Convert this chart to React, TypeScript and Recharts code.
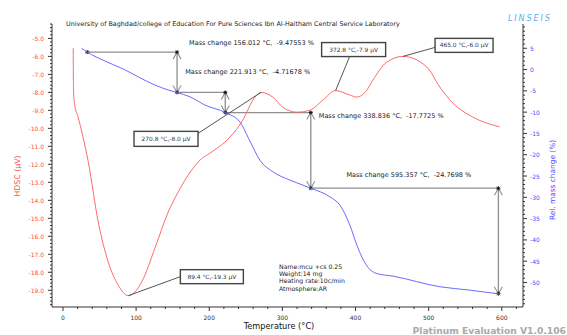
import { LineChart, Line, XAxis, YAxis, ReferenceLine, ReferenceDot } from "recharts";

// Literal colours.
const RED = "#ff6a6a";
const RED_TEXT = "#ff4a4a";
const BLUE = "#6a6aff";
const BLUE_TEXT = "#4a4aff";
const GUIDE = "#8f8f8f";
const AXIS = "#333";
const FONT = "'DejaVu Sans', Verdana, sans-serif";

// HDSC trace (µV) against temperature (°C)
const dscTemps = [14.0, 14.4, 16.0, 20.5, 34.6, 48.2, 61.9, 75.6, 89.4, 107.6, 125.7, 143.9, 157.6, 171.2, 189.6, 200.9, 228.2, 246.0, 259.7, 270.8, 287.0, 300.7, 319.8, 337.6, 355.3, 372.8, 392.2, 401.8, 415.5, 423.7, 442.8, 465.0, 497.5, 515.2, 533.0, 560.3, 597.0];
const dscValues = [-5.55, -7.9, -8.7, -9.35, -11.86, -15.2, -17.43, -18.72, -19.3, -18.54, -16.66, -14.65, -13.53, -12.6, -11.68, -11.38, -10.49, -9.54, -8.43, -8.0, -8.27, -8.83, -9.1, -8.99, -8.43, -7.9, -8.15, -8.26, -7.87, -7.32, -6.32, -6.0, -6.59, -7.7, -8.59, -9.37, -9.92];

// TG trace (rel. mass change %) against temperature (°C)
const tgTemps = [25.6, 33.2, 57.4, 80.2, 125.7, 143.9, 156.0, 173.6, 194.1, 221.9, 241.9, 255.6, 269.2, 287.0, 310.2, 328.0, 338.8, 364.9, 378.6, 392.2, 401.8, 408.6, 416.8, 429.1, 451.0, 515.2, 556.2, 597.0];
const tgValues = [5.0, 4.1, 2.0, 0.3, -3.63, -4.8, -5.38, -6.4, -8.33, -10.09, -12.3, -16.8, -21.25, -24.0, -25.95, -27.13, -27.87, -29.88, -31.83, -36.5, -41.2, -44.0, -46.4, -47.9, -48.5, -51.0, -51.8, -52.7];

// mass change steps
const stepStart = { t: 33.2, m: 4.1 };
const stepTemps = [156.012, 221.913, 338.836, 595.357];
const stepChanges = [-9.47553, -4.71678, -17.7725, -24.7698];
const stepLabels = ["-9.47553", "-4.71678", "-17.7725", "-24.7698"];

// DSC peak picks
const peakTemps = [89.4, 270.8, 372.8, 465.0];
const peakValues = [-19.3, -8.0, -7.9, -6.0];

const xMajor = [0, 100, 200, 300, 400, 500, 600];
const dscMajor = [-5, -6, -7, -8, -9, -10, -11, -12, -13, -14, -15, -16, -17, -18, -19];
const tgMajor = [5, 0, -5, -10, -15, -20, -25, -30, -35, -40, -45, -50];

const infoLines = ["Name:mcu +cs 0.25", "Weight:14 mg", "Heating rate:10c/min", "Atmosphere:AR"];

// layout of the annotation boxes, relative to the peak point (px)
const tagLayout = [
  { bx: 52, by: -26, bw: 63, bh: 14, lx: 52, ly: -19 },
  { bx: -127, by: 39, bw: 64, bh: 15, lx: -63, ly: 41 },
  { bx: -14, by: -48, bw: 64, bh: 14, lx: 14, ly: -34 },
  { bx: 32, by: -18, bw: 58, bh: 14, lx: 32, ly: -9 },
];
const textOffsets = [
  { dx: 12, dy: -9 },
  { dx: -40, dy: -20 },
  { dx: 8, dy: 3 },
  { dx: -152, dy: -13 },
];

const dscData = dscTemps.map((t, i) => ({ t, v: dscValues[i] }));
const tgData = tgTemps.map((t, i) => ({ t, v: tgValues[i] }));

const levels = stepChanges.reduce<number[]>((acc, c) => [...acc, acc[acc.length - 1] + c], [stepStart.m]);
const stepFrom = [stepStart.t, ...stepTemps];

const range = (from: number, to: number, step: number) => {
  const out: number[] = [];
  for (let k = Math.round(from / step); k >= Math.round(to / step); k--) out.push(+(k * step).toFixed(2));
  return out;
};
const xTicks = range(620, 0, 20).reverse();
const dscTicks = range(-4.2, -19.8, 0.2);
const tgTicks = range(10, -55, 1);

function XTick({ x, y, payload }: any) {
  const major = xMajor.includes(payload.value);
  return (
    <g>
      <line x1={x} x2={x} y1={y} y2={y + (major ? 4 : 2)} stroke={AXIS} />
      {major && (
        <text x={x} y={y + 10} textAnchor="middle" dominantBaseline="central" fontSize={6} fontFamily={FONT} fill="#333">
          {payload.value}
        </text>
      )}
    </g>
  );
}

function DscTick({ x, y, payload }: any) {
  const major = dscMajor.includes(payload.value);
  return (
    <g>
      <line x1={x} x2={x - (major ? 4 : 2)} y1={y} y2={y} stroke={AXIS} />
      {major && (
        <text x={x - 8} y={y} textAnchor="end" dominantBaseline="central" fontSize={6} fontFamily={FONT} fill={RED_TEXT}>
          {payload.value.toFixed(1)}
        </text>
      )}
    </g>
  );
}

function TgTick({ x, y, payload }: any) {
  const major = tgMajor.includes(payload.value);
  return (
    <g>
      <line x1={x} x2={x + (major ? 4 : 2)} y1={y} y2={y} stroke={AXIS} />
      {major && (
        <text x={x + 7} y={y} textAnchor="start" dominantBaseline="central" fontSize={6} fontFamily={FONT} fill={BLUE_TEXT}>
          {payload.value}
        </text>
      )}
    </g>
  );
}

function Marker({ x, y }: { x: number; y: number }) {
  return (
    <g stroke="#111" strokeWidth={0.9}>
      <line x1={x - 2} x2={x + 2} y1={y} y2={y} />
      <line x1={x} x2={x} y1={y - 2} y2={y + 2} />
      <line x1={x - 1.5} x2={x + 1.5} y1={y - 1.5} y2={y + 1.5} />
      <line x1={x - 1.5} x2={x + 1.5} y1={y + 1.5} y2={y - 1.5} />
    </g>
  );
}

function Guide({ x1, y1, x2, y2, arrows, startMark }: any) {
  const top = Math.min(y1, y2);
  const bot = Math.max(y1, y2);
  return (
    <g>
      <line x1={x1} y1={y1} x2={x2} y2={y2} stroke={GUIDE} strokeWidth={1.3} />
      {arrows && (
        <g stroke={GUIDE} strokeWidth={1.1} fill="none">
          <polyline points={`${x1 - 4},${top + 7} ${x1},${top} ${x1 + 4},${top + 7}`} />
          <polyline points={`${x1 - 4},${bot - 7} ${x1},${bot} ${x1 + 4},${bot - 7}`} />
        </g>
      )}
      {arrows && <Marker x={x1} y={top} />}
      {arrows && <Marker x={x1} y={bot} />}
      {startMark && <Marker x={x1} y={y1} />}
    </g>
  );
}

function PeakTag({ cx, cy, text, lay }: any) {
  return (
    <g>
      <line x1={cx} y1={cy} x2={cx + lay.lx} y2={cy + lay.ly} stroke="#555" strokeWidth={1} />
      <rect x={cx + lay.bx} y={cy + lay.by} width={lay.bw} height={lay.bh} fill="#fff" stroke="#444" strokeWidth={1.4} />
      <text
        x={cx + lay.bx + lay.bw / 2}
        y={cy + lay.by + lay.bh / 2}
        textAnchor="middle"
        dominantBaseline="central"
        fontSize={5.9}
        fontFamily={FONT}
        fill="#333"
      >
        {text}
      </text>
    </g>
  );
}

export default function App() {
  return (
    <div style={{ position: "relative", width: 567, height: 335, background: "#fff" }}>
      <style>{"body{margin:0}"}</style>
      <LineChart width={567} height={335} margin={{ top: 24, right: 0, bottom: 0, left: 0 }}>
        <XAxis
          dataKey="t"
          type="number"
          domain={[-15, 629]}
          ticks={xTicks}
          interval={0}
          allowDataOverflow
          height={28}
          tick={<XTick />}
          tickLine={false}
          tickSize={0}
          tickMargin={0}
          axisLine={{ stroke: AXIS }}
        />
        <YAxis
          yAxisId="dsc"
          type="number"
          domain={[-19.93, -4.2]}
          ticks={dscTicks}
          interval={0}
          allowDataOverflow
          width={52}
          tick={<DscTick />}
          tickLine={false}
          tickSize={0}
          tickMargin={0}
          axisLine={{ stroke: AXIS }}
        />
        <YAxis
          yAxisId="tg"
          orientation="right"
          type="number"
          domain={[-55.76, 10.7]}
          ticks={tgTicks}
          interval={0}
          allowDataOverflow
          width={44}
          tick={<TgTick />}
          tickLine={false}
          tickSize={0}
          tickMargin={0}
          axisLine={{ stroke: AXIS }}
        />

        {stepTemps.map((t, i) => (
          <ReferenceLine
            key={`h${i}`}
            yAxisId="tg"
            segment={[
              { x: stepFrom[i], y: levels[i] },
              { x: t, y: levels[i] },
            ]}
            shape={(p: any) => <Guide {...p} startMark={i === 0} />}
          />
        ))}
        {stepTemps.map((t, i) => (
          <ReferenceLine
            key={`v${i}`}
            yAxisId="tg"
            segment={[
              { x: t, y: levels[i] },
              { x: t, y: levels[i + 1] },
            ]}
            shape={(p: any) => <Guide {...p} arrows />}
          />
        ))}

        <Line
          data={tgData}
          yAxisId="tg"
          dataKey="v"
          type="monotone"
          stroke={BLUE}
          strokeWidth={1}
          dot={false}
          isAnimationActive={false}
        />
        <Line
          data={dscData}
          yAxisId="dsc"
          dataKey="v"
          type="monotone"
          stroke={RED}
          strokeWidth={1}
          dot={false}
          isAnimationActive={false}
        />

        {stepTemps.map((t, i) => (
          <ReferenceDot
            key={`l${i}`}
            yAxisId="tg"
            x={t}
            y={levels[i]}
            r={0}
            shape={(p: any) => (
              <text
                x={p.cx + textOffsets[i].dx}
                y={p.cy + textOffsets[i].dy}
                dominantBaseline="central"
                fontSize={6.5}
                fontFamily={FONT}
                fill="#222"
                style={{ whiteSpace: "pre" }}
              >
                {`Mass change ${t.toFixed(3)} °C,  ${stepLabels[i]} %`}
              </text>
            )}
          />
        ))}
        {peakTemps.map((t, i) => (
          <ReferenceDot
            key={`p${i}`}
            yAxisId="dsc"
            x={t}
            y={peakValues[i]}
            r={0}
            shape={(p: any) => (
              <PeakTag cx={p.cx} cy={p.cy} lay={tagLayout[i]} text={`${t.toFixed(1)} °C,${peakValues[i].toFixed(1)} µV`} />
            )}
          />
        ))}
      </LineChart>

      <svg width={567} height={335} style={{ position: "absolute", left: 0, top: 0, pointerEvents: "none" }}>
        <text x={66} y={24} dominantBaseline="central" fontSize={6.4} fontFamily={FONT} fill="#222">
          University of Baghdad/college of Education For Pure Sciences Ibn Al-Haitham Central Service Laboratory
        </text>
        <text x={508} y={18} dominantBaseline="central" fontSize={8.2} fontStyle="italic" letterSpacing={1.8} fontFamily={FONT} fill="#5aaee8">
          LINSEIS
        </text>
        <text x={17} y={176} transform="rotate(-90 17 176)" textAnchor="middle" dominantBaseline="central" fontSize={7.8} fontFamily={FONT} fill={RED_TEXT}>
          HDSC (µV)
        </text>
        <text x={552} y={180} transform="rotate(-90 552 180)" textAnchor="middle" dominantBaseline="central" fontSize={7.4} fontFamily={FONT} fill={BLUE_TEXT}>
          Rel. mass change (%)
        </text>
        <text x={279} y={326} textAnchor="middle" dominantBaseline="central" fontSize={8.2} fontFamily={FONT} fill="#111">
          Temperature (°C)
        </text>
        <text x={566} y={330} textAnchor="end" dominantBaseline="central" fontSize={9.2} fontWeight="bold" fontFamily={FONT} fill="#a9a9a9">
          Platinum Evaluation V1.0.106
        </text>
        {infoLines.map((line, i) => (
          <text key={line} x={279} y={266 + i * 7.4} dominantBaseline="central" fontSize={6.2} fontFamily={FONT} fill="#222">
            {line}
          </text>
        ))}
      </svg>
    </div>
  );
}
